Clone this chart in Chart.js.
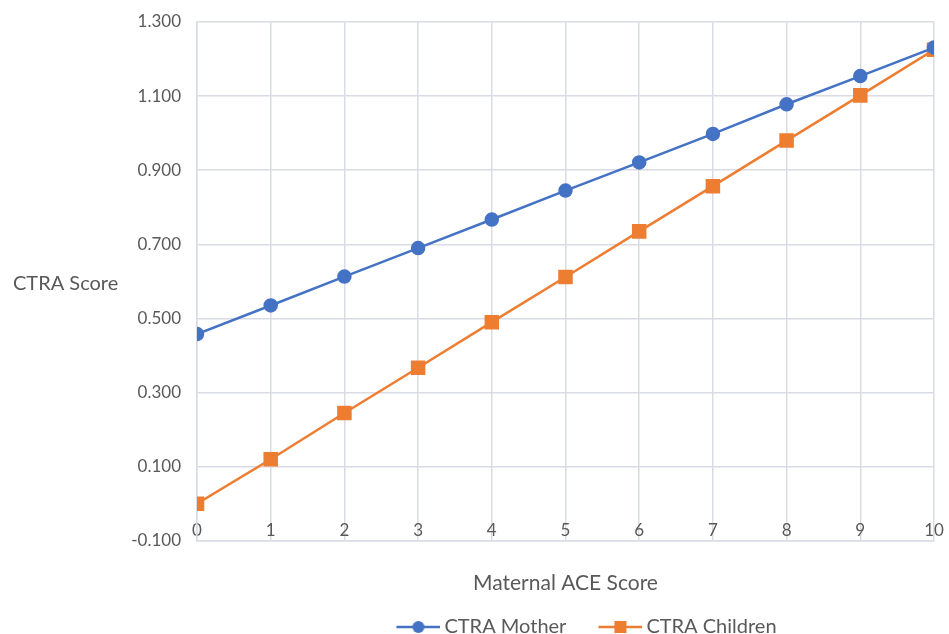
<!DOCTYPE html>
<html>
  <head>
    <meta charset="UTF-8" />
    <title>CTRA Score vs Maternal ACE Score</title>
    <style>
      body {
        margin: 0;
        padding: 0;
        background-color: #fff;
      }
      .chart-container {
        width: 949px;
        height: 634px;
        position: relative;
      }
    </style>
  </head>
  <body>
    <div class="chart-container">
      <canvas id="ctraChart"></canvas>
    </div>

    <script src="https://cdn.jsdelivr.net/npm/chart.js"></script>
    <script>
      // data
      const aceScores = [0, 1, 2, 3, 4, 5, 6, 7, 8, 9, 10];
      const motherScores = [0.458, 0.535, 0.613, 0.690, 0.767, 0.845, 0.921, 0.998, 1.078, 1.154, 1.231];
      const childrenScores = [0.000, 0.120, 0.245, 0.367, 0.490, 0.612, 0.735, 0.857, 0.980, 1.102, 1.225];
      const seriesNames = ["CTRA Mother", "CTRA Children"];

      const blue = "#4472C4";
      const orange = "#ED7D31";
      const gridColor = "#d9dce5";
      const textColor = "#595959";
      const fontFamily = "Lato, 'Liberation Sans', sans-serif";

      // legend symbol: line with marker; transparent strip on the left gives the gap between items
      const ICON_W = 72;
      function legendSymbol(color, shape) {
        const c = document.createElement("canvas");
        c.width = ICON_W;
        c.height = 14;
        const ctx = c.getContext("2d");
        const x0 = ICON_W - 44;
        ctx.strokeStyle = color;
        ctx.lineWidth = 2.5;
        ctx.beginPath();
        ctx.moveTo(x0, 7);
        ctx.lineTo(ICON_W, 7);
        ctx.stroke();
        ctx.fillStyle = color;
        if (shape === "circle") {
          ctx.beginPath();
          ctx.arc(x0 + 22, 7, 6, 0, Math.PI * 2);
          ctx.fill();
        } else {
          ctx.fillRect(x0 + 16, 1, 12, 12);
        }
        return c;
      }
      const legendIcons = [legendSymbol(blue, "circle"), legendSymbol(orange, "rect")];

      const yTitlePlugin = {
        id: "yTitle",
        afterDraw(chart) {
          const ctx = chart.ctx;
          ctx.save();
          ctx.font = "20px " + fontFamily;
          ctx.fillStyle = textColor;
          ctx.textAlign = "left";
          ctx.textBaseline = "middle";
          ctx.fillText("CTRA Score", 13, 284);
          ctx.restore();
        },
      };

      // nudge the legend to where the original sits
      const legendNudge = {
        id: "legendNudge",
        afterLayout(chart) {
          const lg = chart.legend;
          lg.left += 10;
          lg.right += 10;
          lg.top += 11;
          lg.bottom += 11;
        },
      };

      const toPoints = (ys) => aceScores.map((x, i) => ({ x: x, y: ys[i] }));

      new Chart(document.getElementById("ctraChart"), {
        type: "line",
        data: {
          datasets: [
            {
              label: seriesNames[0],
              data: toPoints(motherScores),
              borderColor: blue,
              backgroundColor: blue,
              borderWidth: 2.5,
              pointStyle: "circle",
              pointRadius: 6,
              pointHoverRadius: 6,
              fill: false,
            },
            {
              label: seriesNames[1],
              data: toPoints(childrenScores),
              borderColor: orange,
              backgroundColor: orange,
              borderWidth: 2.5,
              pointStyle: "rect",
              pointRadius: 8.5,
              pointHoverRadius: 8.5,
              fill: false,
            },
          ],
        },
        options: {
          responsive: true,
          maintainAspectRatio: false,
          animation: false,
          layout: {
            padding: { top: 22, right: 15, left: 0, bottom: -2 },
          },
          scales: {
            x: {
              type: "linear",
              position: "bottom",
              min: 0,
              max: 10,
              grid: { color: gridColor, lineWidth: 1.5, drawTicks: false },
              border: { color: gridColor, width: 1.5 },
              ticks: {
                stepSize: 1,
                display: false,
              },
              title: {
                display: true,
                text: "Maternal ACE Score",
                color: textColor,
                font: { family: fontFamily, size: 21 },
                padding: { top: 30, bottom: 0 },
              },
            },
            // tick labels sit just under the zero line, as in the original
            x2: {
              type: "linear",
              position: { y: 0 },
              min: 0,
              max: 10,
              grid: {
                drawOnChartArea: false,
                drawTicks: true,
                tickLength: 12,
                tickColor: "transparent",
              },
              border: { display: false },
              ticks: {
                stepSize: 1,
                padding: 5,
                color: textColor,
                font: { family: fontFamily, size: 17 },
              },
            },
            y: {
              min: -0.1,
              max: 1.3,
              grid: {
                color: gridColor,
                lineWidth: 1.5,
                drawTicks: true,
                tickLength: 12,
                tickColor: "transparent",
              },
              border: { color: gridColor, width: 1.5 },
              ticks: {
                stepSize: 0.2,
                padding: 4,
                color: textColor,
                font: { family: fontFamily, size: 17 },
                callback: (v) => v.toFixed(3),
              },
              afterFit(scale) {
                scale.width = 197;
              },
            },
          },
          plugins: {
            legend: {
              position: "bottom",
              fullSize: false,
              labels: {
                color: textColor,
                font: { family: fontFamily, size: 20 },
                usePointStyle: true,
                pointStyleWidth: ICON_W - 12,
                padding: 10,
                generateLabels(chart) {
                  const items = Chart.defaults.plugins.legend.labels.generateLabels(chart);
                  items.forEach((item, i) => {
                    item.pointStyle = legendIcons[i];
                  });
                  return items;
                },
              },
            },
            tooltip: { enabled: false },
          },
        },
        plugins: [yTitlePlugin, legendNudge],
      });
    </script>
  </body>
</html>
